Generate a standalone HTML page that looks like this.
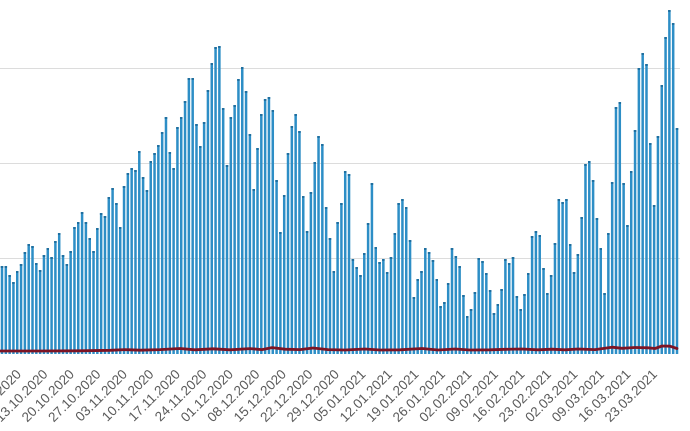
<!DOCTYPE html>
<html>
<head>
<meta charset="utf-8">
<style>
  html, body { margin: 0; padding: 0; background: #ffffff; }
  body { width: 690px; height: 431px; overflow: hidden; }
  svg { display: block; }
  .lbl { font-family: "Liberation Sans", sans-serif; font-size: 13.5px; fill: #5a5a5a; }
</style>
</head>
<body>
<svg width="690" height="431" viewBox="0 0 690 431" xmlns="http://www.w3.org/2000/svg">
<rect x="0" y="0" width="690" height="431" fill="#ffffff"/>
<g stroke="#dcdcdc" stroke-width="1">
<line x1="0" y1="68.5" x2="680" y2="68.5"/>
<line x1="0" y1="163.5" x2="680" y2="163.5"/>
<line x1="0" y1="258.5" x2="680" y2="258.5"/>
</g>
<path fill="#2d8ec6" d="
M0.75 266h2.5V354h-2.5z M4.56 266h2.5V354h-2.5z M8.38 275h2.5V354h-2.5z M12.19 282h2.5V354h-2.5z M16.00 271h2.5V354h-2.5z
M19.82 264h2.5V354h-2.5z M23.63 252h2.5V354h-2.5z M27.45 244h2.5V354h-2.5z M31.26 246h2.5V354h-2.5z M35.07 263h2.5V354h-2.5z
M38.89 270h2.5V354h-2.5z M42.70 255h2.5V354h-2.5z M46.51 248h2.5V354h-2.5z M50.33 257h2.5V354h-2.5z M54.14 241h2.5V354h-2.5z
M57.95 233h2.5V354h-2.5z M61.77 255h2.5V354h-2.5z M65.58 264h2.5V354h-2.5z M69.39 251h2.5V354h-2.5z M73.21 227h2.5V354h-2.5z
M77.02 222h2.5V354h-2.5z M80.84 212h2.5V354h-2.5z M84.65 222h2.5V354h-2.5z M88.46 238h2.5V354h-2.5z M92.28 251h2.5V354h-2.5z
M96.09 228h2.5V354h-2.5z M99.90 213h2.5V354h-2.5z M103.72 216h2.5V354h-2.5z M107.53 197h2.5V354h-2.5z M111.34 188h2.5V354h-2.5z
M115.16 203h2.5V354h-2.5z M118.97 227h2.5V354h-2.5z M122.79 186h2.5V354h-2.5z M126.60 173h2.5V354h-2.5z M130.41 168h2.5V354h-2.5z
M134.23 170h2.5V354h-2.5z M138.04 151h2.5V354h-2.5z M141.85 177h2.5V354h-2.5z M145.67 190h2.5V354h-2.5z M149.48 161h2.5V354h-2.5z
M153.29 153h2.5V354h-2.5z M157.11 145h2.5V354h-2.5z M160.92 132h2.5V354h-2.5z M164.73 117h2.5V354h-2.5z M168.55 152h2.5V354h-2.5z
M172.36 168h2.5V354h-2.5z M176.18 127h2.5V354h-2.5z M179.99 117h2.5V354h-2.5z M183.80 101h2.5V354h-2.5z M187.62 78h2.5V354h-2.5z
M191.43 78h2.5V354h-2.5z M195.24 124h2.5V354h-2.5z M199.06 146h2.5V354h-2.5z M202.87 122h2.5V354h-2.5z M206.68 90h2.5V354h-2.5z
M210.50 63h2.5V354h-2.5z M214.31 47h2.5V354h-2.5z M218.13 46h2.5V354h-2.5z M221.94 108h2.5V354h-2.5z M225.75 165h2.5V354h-2.5z
M229.57 117h2.5V354h-2.5z M233.38 105h2.5V354h-2.5z M237.19 79h2.5V354h-2.5z M241.01 67h2.5V354h-2.5z M244.82 91h2.5V354h-2.5z
M248.63 134h2.5V354h-2.5z M252.45 189h2.5V354h-2.5z M256.26 148h2.5V354h-2.5z M260.07 114h2.5V354h-2.5z M263.89 99h2.5V354h-2.5z
M267.70 97h2.5V354h-2.5z M271.52 110h2.5V354h-2.5z M275.33 180h2.5V354h-2.5z M279.14 232h2.5V354h-2.5z M282.96 195h2.5V354h-2.5z
M286.77 153h2.5V354h-2.5z M290.58 126h2.5V354h-2.5z M294.40 114h2.5V354h-2.5z M298.21 131h2.5V354h-2.5z M302.02 196h2.5V354h-2.5z
M305.84 231h2.5V354h-2.5z M309.65 192h2.5V354h-2.5z M313.47 162h2.5V354h-2.5z M317.28 136h2.5V354h-2.5z M321.09 144h2.5V354h-2.5z
M324.91 207h2.5V354h-2.5z M328.72 238h2.5V354h-2.5z M332.53 271h2.5V354h-2.5z M336.35 222h2.5V354h-2.5z M340.16 203h2.5V354h-2.5z
M343.97 171h2.5V354h-2.5z M347.79 174h2.5V354h-2.5z M351.60 259h2.5V354h-2.5z M355.41 267h2.5V354h-2.5z M359.23 275h2.5V354h-2.5z
M363.04 253h2.5V354h-2.5z M366.86 223h2.5V354h-2.5z M370.67 183h2.5V354h-2.5z M374.48 247h2.5V354h-2.5z M378.30 262h2.5V354h-2.5z
M382.11 259h2.5V354h-2.5z M385.92 272h2.5V354h-2.5z M389.74 257h2.5V354h-2.5z M393.55 233h2.5V354h-2.5z M397.36 203h2.5V354h-2.5z
M401.18 199h2.5V354h-2.5z M404.99 207h2.5V354h-2.5z M408.81 240h2.5V354h-2.5z M412.62 297h2.5V354h-2.5z M416.43 279h2.5V354h-2.5z
M420.25 271h2.5V354h-2.5z M424.06 248h2.5V354h-2.5z M427.87 252h2.5V354h-2.5z M431.69 260h2.5V354h-2.5z M435.50 279h2.5V354h-2.5z
M439.31 306h2.5V354h-2.5z M443.13 302h2.5V354h-2.5z M446.94 283h2.5V354h-2.5z M450.75 248h2.5V354h-2.5z M454.57 256h2.5V354h-2.5z
M458.38 266h2.5V354h-2.5z M462.20 295h2.5V354h-2.5z M466.01 316h2.5V354h-2.5z M469.82 309h2.5V354h-2.5z M473.64 292h2.5V354h-2.5z
M477.45 258h2.5V354h-2.5z M481.26 261h2.5V354h-2.5z M485.08 273h2.5V354h-2.5z M488.89 290h2.5V354h-2.5z M492.70 313h2.5V354h-2.5z
M496.52 304h2.5V354h-2.5z M500.33 289h2.5V354h-2.5z M504.15 259h2.5V354h-2.5z M507.96 263h2.5V354h-2.5z M511.77 257h2.5V354h-2.5z
M515.59 296h2.5V354h-2.5z M519.40 309h2.5V354h-2.5z M523.21 294h2.5V354h-2.5z M527.03 273h2.5V354h-2.5z M530.84 236h2.5V354h-2.5z
M534.65 231h2.5V354h-2.5z M538.47 235h2.5V354h-2.5z M542.28 268h2.5V354h-2.5z M546.09 293h2.5V354h-2.5z M549.91 275h2.5V354h-2.5z
M553.72 243h2.5V354h-2.5z M557.54 199h2.5V354h-2.5z M561.35 202h2.5V354h-2.5z M565.16 199h2.5V354h-2.5z M568.98 244h2.5V354h-2.5z
M572.79 272h2.5V354h-2.5z M576.60 254h2.5V354h-2.5z M580.42 217h2.5V354h-2.5z M584.23 164h2.5V354h-2.5z M588.04 161h2.5V354h-2.5z
M591.86 180h2.5V354h-2.5z M595.67 218h2.5V354h-2.5z M599.49 248h2.5V354h-2.5z M603.30 293h2.5V354h-2.5z M607.11 233h2.5V354h-2.5z
M610.93 182h2.5V354h-2.5z M614.74 107h2.5V354h-2.5z M618.55 102h2.5V354h-2.5z M622.37 183h2.5V354h-2.5z M626.18 225h2.5V354h-2.5z
M629.99 171h2.5V354h-2.5z M633.81 130h2.5V354h-2.5z M637.62 68h2.5V354h-2.5z M641.43 53h2.5V354h-2.5z M645.25 64h2.5V354h-2.5z
M649.06 143h2.5V354h-2.5z M652.88 205h2.5V354h-2.5z M656.69 136h2.5V354h-2.5z M660.50 85h2.5V354h-2.5z M664.32 37h2.5V354h-2.5z
M668.13 10h2.5V354h-2.5z M671.94 23h2.5V354h-2.5z M675.76 128h2.5V354h-2.5z"/>
<path fill="#1f6f9f" d="
M0.75 266h2.5v2h-2.5z M4.56 266h2.5v2h-2.5z M8.38 275h2.5v2h-2.5z M12.19 282h2.5v2h-2.5z M16.00 271h2.5v2h-2.5z
M19.82 264h2.5v2h-2.5z M23.63 252h2.5v2h-2.5z M27.45 244h2.5v2h-2.5z M31.26 246h2.5v2h-2.5z M35.07 263h2.5v2h-2.5z
M38.89 270h2.5v2h-2.5z M42.70 255h2.5v2h-2.5z M46.51 248h2.5v2h-2.5z M50.33 257h2.5v2h-2.5z M54.14 241h2.5v2h-2.5z
M57.95 233h2.5v2h-2.5z M61.77 255h2.5v2h-2.5z M65.58 264h2.5v2h-2.5z M69.39 251h2.5v2h-2.5z M73.21 227h2.5v2h-2.5z
M77.02 222h2.5v2h-2.5z M80.84 212h2.5v2h-2.5z M84.65 222h2.5v2h-2.5z M88.46 238h2.5v2h-2.5z M92.28 251h2.5v2h-2.5z
M96.09 228h2.5v2h-2.5z M99.90 213h2.5v2h-2.5z M103.72 216h2.5v2h-2.5z M107.53 197h2.5v2h-2.5z M111.34 188h2.5v2h-2.5z
M115.16 203h2.5v2h-2.5z M118.97 227h2.5v2h-2.5z M122.79 186h2.5v2h-2.5z M126.60 173h2.5v2h-2.5z M130.41 168h2.5v2h-2.5z
M134.23 170h2.5v2h-2.5z M138.04 151h2.5v2h-2.5z M141.85 177h2.5v2h-2.5z M145.67 190h2.5v2h-2.5z M149.48 161h2.5v2h-2.5z
M153.29 153h2.5v2h-2.5z M157.11 145h2.5v2h-2.5z M160.92 132h2.5v2h-2.5z M164.73 117h2.5v2h-2.5z M168.55 152h2.5v2h-2.5z
M172.36 168h2.5v2h-2.5z M176.18 127h2.5v2h-2.5z M179.99 117h2.5v2h-2.5z M183.80 101h2.5v2h-2.5z M187.62 78h2.5v2h-2.5z
M191.43 78h2.5v2h-2.5z M195.24 124h2.5v2h-2.5z M199.06 146h2.5v2h-2.5z M202.87 122h2.5v2h-2.5z M206.68 90h2.5v2h-2.5z
M210.50 63h2.5v2h-2.5z M214.31 47h2.5v2h-2.5z M218.13 46h2.5v2h-2.5z M221.94 108h2.5v2h-2.5z M225.75 165h2.5v2h-2.5z
M229.57 117h2.5v2h-2.5z M233.38 105h2.5v2h-2.5z M237.19 79h2.5v2h-2.5z M241.01 67h2.5v2h-2.5z M244.82 91h2.5v2h-2.5z
M248.63 134h2.5v2h-2.5z M252.45 189h2.5v2h-2.5z M256.26 148h2.5v2h-2.5z M260.07 114h2.5v2h-2.5z M263.89 99h2.5v2h-2.5z
M267.70 97h2.5v2h-2.5z M271.52 110h2.5v2h-2.5z M275.33 180h2.5v2h-2.5z M279.14 232h2.5v2h-2.5z M282.96 195h2.5v2h-2.5z
M286.77 153h2.5v2h-2.5z M290.58 126h2.5v2h-2.5z M294.40 114h2.5v2h-2.5z M298.21 131h2.5v2h-2.5z M302.02 196h2.5v2h-2.5z
M305.84 231h2.5v2h-2.5z M309.65 192h2.5v2h-2.5z M313.47 162h2.5v2h-2.5z M317.28 136h2.5v2h-2.5z M321.09 144h2.5v2h-2.5z
M324.91 207h2.5v2h-2.5z M328.72 238h2.5v2h-2.5z M332.53 271h2.5v2h-2.5z M336.35 222h2.5v2h-2.5z M340.16 203h2.5v2h-2.5z
M343.97 171h2.5v2h-2.5z M347.79 174h2.5v2h-2.5z M351.60 259h2.5v2h-2.5z M355.41 267h2.5v2h-2.5z M359.23 275h2.5v2h-2.5z
M363.04 253h2.5v2h-2.5z M366.86 223h2.5v2h-2.5z M370.67 183h2.5v2h-2.5z M374.48 247h2.5v2h-2.5z M378.30 262h2.5v2h-2.5z
M382.11 259h2.5v2h-2.5z M385.92 272h2.5v2h-2.5z M389.74 257h2.5v2h-2.5z M393.55 233h2.5v2h-2.5z M397.36 203h2.5v2h-2.5z
M401.18 199h2.5v2h-2.5z M404.99 207h2.5v2h-2.5z M408.81 240h2.5v2h-2.5z M412.62 297h2.5v2h-2.5z M416.43 279h2.5v2h-2.5z
M420.25 271h2.5v2h-2.5z M424.06 248h2.5v2h-2.5z M427.87 252h2.5v2h-2.5z M431.69 260h2.5v2h-2.5z M435.50 279h2.5v2h-2.5z
M439.31 306h2.5v2h-2.5z M443.13 302h2.5v2h-2.5z M446.94 283h2.5v2h-2.5z M450.75 248h2.5v2h-2.5z M454.57 256h2.5v2h-2.5z
M458.38 266h2.5v2h-2.5z M462.20 295h2.5v2h-2.5z M466.01 316h2.5v2h-2.5z M469.82 309h2.5v2h-2.5z M473.64 292h2.5v2h-2.5z
M477.45 258h2.5v2h-2.5z M481.26 261h2.5v2h-2.5z M485.08 273h2.5v2h-2.5z M488.89 290h2.5v2h-2.5z M492.70 313h2.5v2h-2.5z
M496.52 304h2.5v2h-2.5z M500.33 289h2.5v2h-2.5z M504.15 259h2.5v2h-2.5z M507.96 263h2.5v2h-2.5z M511.77 257h2.5v2h-2.5z
M515.59 296h2.5v2h-2.5z M519.40 309h2.5v2h-2.5z M523.21 294h2.5v2h-2.5z M527.03 273h2.5v2h-2.5z M530.84 236h2.5v2h-2.5z
M534.65 231h2.5v2h-2.5z M538.47 235h2.5v2h-2.5z M542.28 268h2.5v2h-2.5z M546.09 293h2.5v2h-2.5z M549.91 275h2.5v2h-2.5z
M553.72 243h2.5v2h-2.5z M557.54 199h2.5v2h-2.5z M561.35 202h2.5v2h-2.5z M565.16 199h2.5v2h-2.5z M568.98 244h2.5v2h-2.5z
M572.79 272h2.5v2h-2.5z M576.60 254h2.5v2h-2.5z M580.42 217h2.5v2h-2.5z M584.23 164h2.5v2h-2.5z M588.04 161h2.5v2h-2.5z
M591.86 180h2.5v2h-2.5z M595.67 218h2.5v2h-2.5z M599.49 248h2.5v2h-2.5z M603.30 293h2.5v2h-2.5z M607.11 233h2.5v2h-2.5z
M610.93 182h2.5v2h-2.5z M614.74 107h2.5v2h-2.5z M618.55 102h2.5v2h-2.5z M622.37 183h2.5v2h-2.5z M626.18 225h2.5v2h-2.5z
M629.99 171h2.5v2h-2.5z M633.81 130h2.5v2h-2.5z M637.62 68h2.5v2h-2.5z M641.43 53h2.5v2h-2.5z M645.25 64h2.5v2h-2.5z
M649.06 143h2.5v2h-2.5z M652.88 205h2.5v2h-2.5z M656.69 136h2.5v2h-2.5z M660.50 85h2.5v2h-2.5z M664.32 37h2.5v2h-2.5z
M668.13 10h2.5v2h-2.5z M671.94 23h2.5v2h-2.5z M675.76 128h2.5v2h-2.5z"/>
<polyline fill="none" stroke="#7d1424" stroke-width="2.8" stroke-linejoin="round" stroke-linecap="round" points="0,351 40,351 80,350.8 110,350.3 125,349.6 140,350.2 160,349.6 180,348.5 195,349.8 213,348.8 230,349.8 250,348.6 262,349.6 272,347.6 285,349.2 300,349.6 313,348 328,349.6 345,350 365,349 380,350 400,349.8 422,348.5 438,350 455,349 470,350 490,349.8 505,349.3 522,349 538,349.8 552,349.2 565,349.8 578,349 595,349.6 612,347.2 622,348.3 635,347.5 648,347.8 655,348.5 662,346 670,346.2 677,348.5"/>
<g class="lbl" text-anchor="end">
<text transform="translate(22,375) rotate(-45)">06.10.2020</text>
<text transform="translate(48.5,375) rotate(-45)">13.10.2020</text>
<text transform="translate(75,375) rotate(-45)">20.10.2020</text>
<text transform="translate(101.5,375) rotate(-45)">27.10.2020</text>
<text transform="translate(128,375) rotate(-45)">03.11.2020</text>
<text transform="translate(154.5,375) rotate(-45)">10.11.2020</text>
<text transform="translate(181,375) rotate(-45)">17.11.2020</text>
<text transform="translate(207.5,375) rotate(-45)">24.11.2020</text>
<text transform="translate(234,375) rotate(-45)">01.12.2020</text>
<text transform="translate(260.5,375) rotate(-45)">08.12.2020</text>
<text transform="translate(287,375) rotate(-45)">15.12.2020</text>
<text transform="translate(313.5,375) rotate(-45)">22.12.2020</text>
<text transform="translate(340,375) rotate(-45)">29.12.2020</text>
<text transform="translate(366.5,375) rotate(-45)">05.01.2021</text>
<text transform="translate(393,375) rotate(-45)">12.01.2021</text>
<text transform="translate(419.5,375) rotate(-45)">19.01.2021</text>
<text transform="translate(446,375) rotate(-45)">26.01.2021</text>
<text transform="translate(472.5,375) rotate(-45)">02.02.2021</text>
<text transform="translate(499,375) rotate(-45)">09.02.2021</text>
<text transform="translate(525.5,375) rotate(-45)">16.02.2021</text>
<text transform="translate(552,375) rotate(-45)">23.02.2021</text>
<text transform="translate(578.5,375) rotate(-45)">02.03.2021</text>
<text transform="translate(605,375) rotate(-45)">09.03.2021</text>
<text transform="translate(631.5,375) rotate(-45)">16.03.2021</text>
<text transform="translate(658,375) rotate(-45)">23.03.2021</text>
</g>
</svg>
</body>
</html>
